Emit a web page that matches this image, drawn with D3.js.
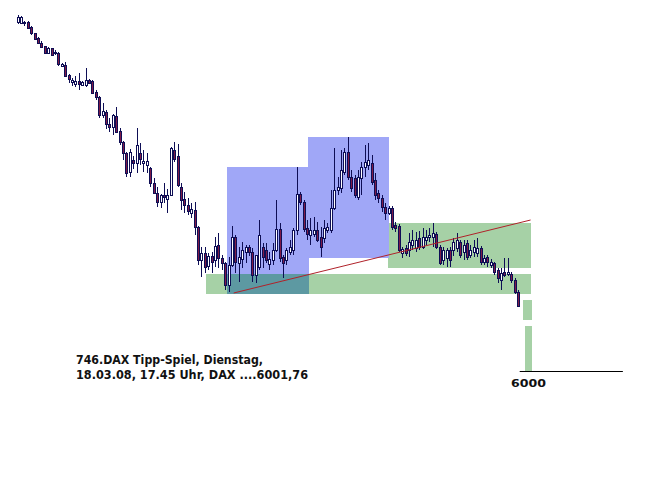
<!DOCTYPE html>
<html>
<head>
<meta charset="utf-8">
<script src="https://cdn.jsdelivr.net/npm/d3@7"></script>
<style>
html,body{margin:0;padding:0;background:#fff;}
svg{display:block;}
</style>
</head>
<body>
<svg id="chart" width="664" height="495"></svg>
<script>
// ---- data ----
const opens  = [6698,6696,6697,6698,6688,6676,6666,6656,6650,6636,6646,6636,6636,6610,6612,6592,6578,6574,6580,6572,
6572,6582,6580,6558,6548,6512,6518,6494,6488,6510,6480,6458,6436,6398,6422,6416,6436,6416,6412,6406,
6376,6356,6338,6352,6344,6352,6442,6430,6368,6344,6332,6316,6322,6288,6222,6236,6210,6230,6222,6252,
6226,6216,6172,6212,6268,6216,6224,6238,6248,6238,6192,6208,6248,6242,6214,6222,6242,6284,6228,6222,
6238,6242,6282,6354,6338,6286,6272,6274,6282,6268,6266,6282,6282,6326,6362,6366,6398,6438,6388,6386,
6348,6386,6408,6412,6416,6382,6356,6346,6328,6316,6326,6292,6290,6236,6246,6242,6252,6246,6266,6248,
6262,6268,6268,6274,6248,6222,6226,6242,6242,6246,6258,6238,6256,6232,6238,6236,6246,6218,6228,6212,
6216,6202,6182,6198,6194,6194,6182,6158];
const highs  = [6712,6710,6700,6700,6690,6676,6668,6660,6650,6648,6646,6642,6638,6616,6618,6594,6586,6590,6596,6580,
6606,6584,6582,6562,6550,6536,6522,6506,6514,6528,6486,6460,6438,6444,6430,6486,6456,6442,6436,6408,
6386,6368,6354,6376,6364,6448,6458,6454,6376,6358,6346,6336,6338,6290,6248,6248,6236,6238,6268,6276,
6232,6218,6228,6290,6272,6248,6258,6252,6252,6246,6232,6302,6256,6256,6238,6256,6342,6296,6232,6246,
6262,6286,6408,6358,6342,6302,6306,6308,6298,6288,6302,6296,6362,6446,6388,6442,6446,6468,6402,6392,
6402,6418,6452,6456,6432,6396,6362,6352,6336,6330,6330,6298,6294,6248,6252,6276,6282,6278,6280,6286,
6282,6286,6296,6278,6252,6248,6246,6248,6266,6276,6262,6262,6262,6252,6262,6266,6250,6232,6232,6224,
6218,6206,6206,6226,6226,6198,6186,6162];
const lows   = [6694,6694,6690,6684,6672,6662,6654,6646,6634,6634,6630,6632,6610,6608,6588,6576,6570,6568,6562,6570,
6568,6574,6554,6542,6506,6506,6484,6478,6472,6476,6452,6422,6388,6388,6404,6396,6412,6398,6396,6368,
6354,6328,6326,6336,6316,6350,6418,6368,6322,6316,6312,6306,6272,6212,6188,6196,6202,6196,6208,6206,
6202,6162,6158,6208,6196,6178,6206,6216,6230,6178,6176,6202,6206,6216,6202,6212,6238,6218,6186,6212,
6232,6232,6272,6332,6278,6262,6252,6268,6258,6228,6256,6276,6276,6322,6352,6356,6392,6382,6358,6346,
6342,6352,6388,6402,6372,6342,6336,6318,6302,6312,6282,6278,6238,6226,6230,6228,6242,6238,6242,6244,
6252,6258,6248,6244,6212,6212,6208,6208,6230,6238,6226,6222,6222,6226,6228,6228,6212,6212,6208,6206,
6192,6176,6162,6188,6190,6176,6154,6128];
const closes = [6708,6708,6698,6686,6676,6664,6656,6648,6636,6646,6632,6637,6614,6614,6590,6584,6582,6580,6574,6578,
6582,6576,6556,6548,6512,6520,6494,6488,6512,6478,6458,6436,6396,6438,6416,6452,6424,6420,6420,6376,
6356,6338,6352,6348,6352,6446,6424,6372,6342,6332,6320,6324,6288,6222,6236,6208,6230,6218,6250,6226,
6216,6172,6212,6268,6218,6228,6242,6248,6238,6192,6232,6272,6228,6222,6224,6242,6284,6226,6216,6242,
6248,6282,6354,6338,6284,6274,6282,6282,6262,6248,6286,6288,6326,6362,6368,6402,6438,6388,6366,6352,
6388,6408,6418,6422,6378,6352,6346,6328,6316,6326,6288,6286,6242,6244,6236,6258,6262,6262,6248,6268,
6268,6272,6276,6248,6216,6242,6242,6222,6258,6262,6232,6252,6228,6242,6248,6246,6218,6226,6218,6218,
6198,6186,6196,6192,6198,6182,6158,6130];

// zones: [fromBar, toBar, priceLow, priceHigh]
const greenZones = [[55.3,150.7,6155,6194],[108.7,150.7,6206,6296],[148.6,151,6102,6142],[149.2,151,6000,6090]];
const blueZones  = [[61.5,85.5,6155,6408],[85.2,109,6226,6468]];
const overlapZone = [61.5,85.5,6155,6194];
const trendLine = [[63.5,6156],[150.7,6302]];
const targetLevel = 6000;
const targetRange = [147.5,177.8];
const targetLabel = "6000";
const titleLines = ["746.DAX Tipp-Spiel, Dienstag,", "18.03.08, 17.45 Uhr, DAX ....6001,76"];

// ---- drawing ----
const svg = d3.select("#chart");
const N = closes.length;
const x = d3.scaleLinear().domain([0, N - 1]).range([17.5, 518]);
const y = d3.scaleLinear().domain([6000, 6742]).range([371, 0]);

function zoneRect(g, z, fill) {
  g.append("rect")
    .attr("x", x(z[0])).attr("width", x(z[1]) - x(z[0]))
    .attr("y", y(z[3])).attr("height", y(z[2]) - y(z[3]))
    .attr("fill", fill);
}
const zg = svg.append("g").attr("shape-rendering", "crispEdges");
greenZones.forEach(z => zoneRect(zg, z, "#a6d1a6"));
blueZones.forEach(z => zoneRect(zg, z, "#a0a7f7"));
zoneRect(zg, overlapZone, "#5d99a2");

const cg = svg.append("g").attr("shape-rendering", "crispEdges");
d3.range(N).forEach(i => {
  const cx = Math.round(x(i));
  const o = opens[i], c = closes[i];
  const down = c < o;
  cg.append("line")
    .attr("x1", cx + 0.5).attr("x2", cx + 0.5)
    .attr("y1", y(highs[i])).attr("y2", y(lows[i]))
    .attr("stroke", "#0e0e55").attr("stroke-width", 1);
  const top = y(Math.max(o, c)), bot = y(Math.min(o, c));
  cg.append("rect")
    .attr("x", cx - 0.5).attr("width", 2)
    .attr("y", top).attr("height", Math.max(1, bot - top))
    .attr("fill", down ? "#7e1b48" : "#ffffff")
    .attr("stroke", "#0e0e55").attr("stroke-width", 1);
});

svg.append("line")
  .attr("x1", x(trendLine[0][0])).attr("y1", y(trendLine[0][1]))
  .attr("x2", x(trendLine[1][0])).attr("y2", y(trendLine[1][1]))
  .attr("stroke", "#b0222a").attr("stroke-width", 1);

svg.append("line")
  .attr("x1", x(targetRange[0])).attr("x2", x(targetRange[1]))
  .attr("y1", Math.round(y(targetLevel)) + 0.5).attr("y2", Math.round(y(targetLevel)) + 0.5)
  .attr("stroke", "#000").attr("stroke-width", 1);

svg.append("text")
  .attr("x", 511).attr("y", 387)
  .attr("font-family", "DejaVu Sans").attr("font-weight", "bold").attr("font-size", 11)
  .attr("textLength", 35).attr("lengthAdjust", "spacingAndGlyphs")
  .attr("fill", "#111").text(targetLabel);

const lens = [187, 232];
titleLines.forEach((t, k) => {
  svg.append("text")
    .attr("x", 76).attr("y", 364 + k * 15)
    .attr("font-family", "DejaVu Sans").attr("font-weight", "bold").attr("font-size", 11.5)
    .attr("textLength", lens[k]).attr("lengthAdjust", "spacingAndGlyphs")
    .attr("fill", "#111").text(t);
});
</script>
</body>
</html>
